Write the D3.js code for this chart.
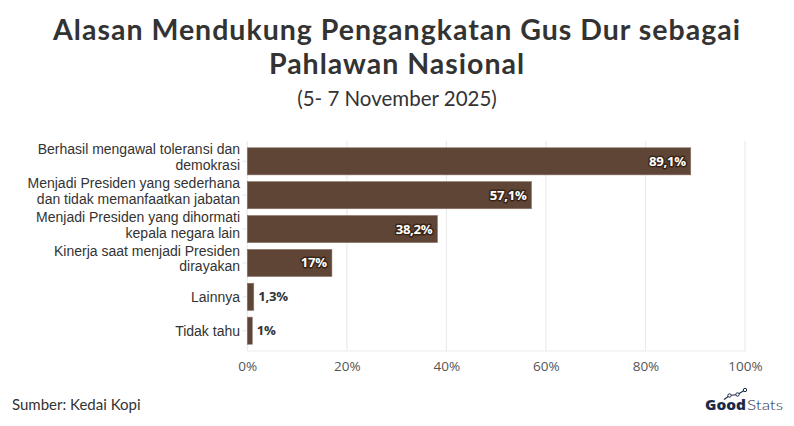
<!DOCTYPE html>
<html><head><meta charset="utf-8">
<script src="https://cdn.jsdelivr.net/npm/d3@7"></script>
<style>body{margin:0;background:#fff}svg{display:block}</style>
</head><body>
<svg id="c" width="794" height="426"></svg>
<script>
const categories = [
  ["Berhasil mengawal toleransi dan","demokrasi"],
  ["Menjadi Presiden yang sederhana","dan tidak memanfaatkan jabatan"],
  ["Menjadi Presiden yang dihormati","kepala negara lain"],
  ["Kinerja saat menjadi Presiden","dirayakan"],
  ["Lainnya"],
  ["Tidak tahu"]
];
const values = [89.1, 57.1, 38.2, 17, 1.3, 1];
const valueLabels = ["89,1%","57,1%","38,2%","17%","1,3%","1%"];
const xTicks = [0,20,40,60,80,100];
const titleLines = ["Alasan Mendukung Pengangkatan Gus Dur sebagai","Pahlawan Nasional"];
const subtitle = "(5- 7 November 2025)";
const source = "Sumber: Kedai Kopi";

const svg = d3.select("#c");
const TFONT = "Lato, sans-serif";
const FONT = "'Open Sans', sans-serif";
const LFONT = "'Liberation Sans', Arial, sans-serif";
const m = {left:247.3, right:745, top:141, bottom:351};
const x = d3.scaleLinear().domain([0,100]).range([m.left, m.right]);
const y = d3.scaleBand().domain(d3.range(values.length)).range([m.top, m.bottom]).padding(0.2);

// title
svg.append("g").selectAll("text").data(titleLines).join("text")
  .attr("x",397).attr("y",(d,i)=>39.5+i*34.5).attr("text-anchor","middle")
  .attr("font-family",TFONT).attr("font-weight",700).attr("font-size",28.5).attr("fill","#333")
  .attr("letter-spacing",1).text(d=>d);
svg.append("text").attr("x",397).attr("y",106).attr("text-anchor","middle")
  .attr("font-family",TFONT).attr("font-size",20.5).attr("fill","#333").text(subtitle);

// grid
svg.append("g").selectAll("line").data(xTicks).join("line")
  .attr("x1",d=>x(d)).attr("x2",d=>x(d)).attr("y1",m.top).attr("y2",m.bottom)
  .attr("stroke","#ebebeb").attr("stroke-width",1.2);
svg.append("line").attr("x1",m.left).attr("x2",m.right+1).attr("y1",m.bottom).attr("y2",m.bottom)
  .attr("stroke","#ebebeb").attr("stroke-width",1.2);

// x axis
const xa = svg.append("g").attr("transform",`translate(0,${m.bottom})`)
  .call(d3.axisBottom(x).tickValues(xTicks).tickFormat(d=>d+"%").tickSize(0).tickPadding(10));
xa.select(".domain").remove();
xa.selectAll("text").attr("font-family",FONT).attr("font-size",13.5).attr("fill","#555");

// y axis
const ya = svg.append("g").attr("transform",`translate(${m.left},0)`)
  .call(d3.axisLeft(y).tickSize(5).tickFormat(""));
ya.select(".domain").remove();
ya.selectAll("line").attr("stroke","#ebebeb").attr("stroke-width",1.2);
const lab = svg.append("g");
categories.forEach((d,i)=>{
  const cy = y(i)+y.bandwidth()/2;
  const n = d.length;
  d.forEach((s,j)=>{
    lab.append("text").attr("text-anchor","end").attr("font-family",LFONT).attr("font-size",14)
      .attr("fill","#333").attr("x",240)
      .attr("y",cy + 5.5 + (j-(n-1))*15.9 + (n-1)*3).text(s);
  });
});

// bars
svg.append("g").selectAll("rect").data(values).join("rect")
  .attr("x",x(0)).attr("y",(d,i)=>y(i)).attr("width",d=>x(d)-x(0)).attr("height",y.bandwidth())
  .attr("fill","#5f4536").attr("stroke","#8b7466").attr("stroke-width",0.6);

// value labels
const vg = svg.append("g");
values.forEach((v,i)=>{
  const inside = v > 10;
  const cy = y(i)+y.bandwidth()/2+4.5;
  const t = vg.append("text").attr("font-family",FONT).attr("font-weight",700).attr("font-size",13.2)
    .attr("letter-spacing",-0.3).text(valueLabels[i]);
  if(inside){
    t.attr("x",x(v)-5).attr("y",cy).attr("text-anchor","end").attr("fill","#fff")
     .attr("stroke","#3a2415").attr("stroke-width",3).attr("paint-order","stroke").attr("stroke-linejoin","round");
  } else {
    t.attr("x",x(v)+4.5).attr("y",cy).attr("text-anchor","start").attr("fill","#333");
  }
});

// footer
svg.append("text").attr("x",12).attr("y",410).attr("font-family",TFONT).attr("font-size",15)
  .attr("fill","#333").text(source);
const logo = svg.append("g");
logo.append("text").attr("x",705).attr("y",410).attr("font-family",FONT).attr("font-weight",800)
  .attr("font-size",14.5).attr("fill","#1c2a4a").attr("textLength",41).attr("lengthAdjust","spacingAndGlyphs").text("Good");
logo.append("text").attr("x",747).attr("y",410).attr("font-family",TFONT).attr("font-weight",300)
  .attr("font-size",14.5).attr("fill","#1c2a4a").attr("textLength",36).attr("lengthAdjust","spacingAndGlyphs").text("Stats");
logo.append("polyline").attr("points","724,399.5 729.5,395.5 737.5,394.5 745,390")
  .attr("fill","none").attr("stroke","#1c2a4a").attr("stroke-width",1.2);
[[729.5,395.5],[737.5,394.5],[745,390]].forEach(p=>logo.append("circle").attr("cx",p[0]).attr("cy",p[1]).attr("r",1.7)
  .attr("fill","#fff").attr("stroke","#1c2a4a").attr("stroke-width",1));
</script>
</body></html>
